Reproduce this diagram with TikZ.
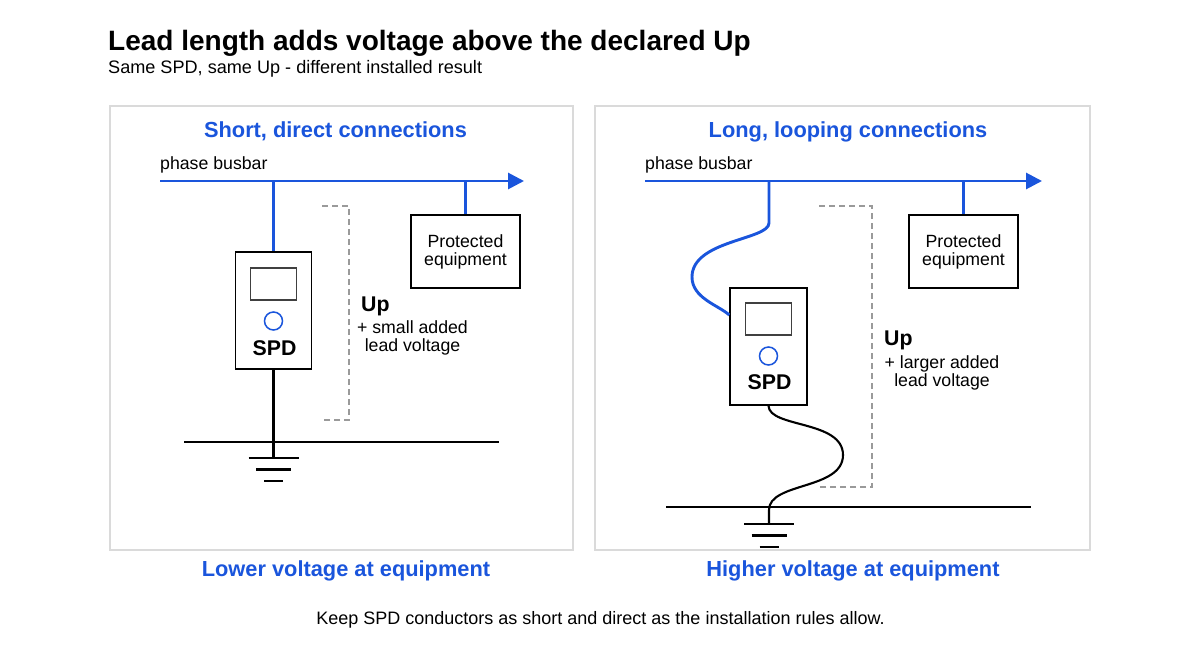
\documentclass[tikz,border=0pt]{standalone}
\usepackage{fontspec}
\setmainfont{Liberation Sans}
\usetikzlibrary{arrows.meta,calc}
\definecolor{busblue}{HTML}{1A55DC}
\definecolor{panelline}{HTML}{DADADA}
\definecolor{dimgray}{HTML}{9A9A9A}

\tikzset{
  panel/.style={draw=panelline, fill=white, line width=1.2pt},
  bus/.style={draw=busblue, line width=2.9pt},
  wire/.style={draw=black, line width=2.1pt},
  unitbox/.style={draw, line width=1.4pt, fill=white, inner sep=0pt},
  window/.style={draw=black!75, line width=1.2pt, minimum width=46pt, minimum height=32pt, inner sep=0pt},
  lamp/.style={circle, draw=busblue, line width=1.5pt, minimum size=18pt, inner sep=0pt},
  bracket/.style={draw=dimgray, dashed, dash pattern=on 6pt off 4pt, line width=1.1pt},
  heading/.style={text=busblue, font=\bfseries\fontsize{21.8}{26}\selectfont, inner sep=0pt},
  small/.style={font=\fontsize{17.7}{18}\selectfont, inner sep=0pt},
  big/.style={font=\bfseries\fontsize{21.3}{25}\selectfont, inner sep=0pt}
}

\begin{document}
\begin{tikzpicture}[x=1pt,y=-1pt]
  \useasboundingbox (0,0) rectangle (1200,650);

  % title
  \node[anchor=base west, inner sep=0pt, font=\bfseries\fontsize{28}{32}\selectfont] (title) at (108,51) {Lead length adds voltage above the declared Up};
  \node[anchor=base west, inner sep=0pt, font=\fontsize{18.1}{22}\selectfont] (subtitle) at (108,74) {Same SPD, same Up - different installed result};

  % panels
  \draw[panel] (110,106) rectangle (573,550);
  \draw[panel] (595,106) rectangle (1090,550);

  % ---- left: short, direct connections
  \node[heading, anchor=base] (headL) at (335.5,138) {Short, direct connections};
  \node[small, anchor=base west] (busL) at (160,170) {phase busbar};
  \coordinate (busLs) at (160,181);
  \coordinate (busLe) at (524,181);
  \draw[bus, -{Triangle[length=16pt,width=16pt]}] (busLs) -- (busLe);

  \node[unitbox, minimum width=76pt, minimum height=117pt] (spdL) at (273.5,310.5) {};
  \node[window] (winL) at (273.5,284) {};
  \node[lamp] (lampL) at (273.5,321) {};
  \node[big, anchor=base] (txtL) at (274.5,355) {SPD};
  \draw[bus] (spdL.north |- busLs) -- (spdL.north);

  \node[unitbox, small, align=center, minimum width=109pt, minimum height=73pt] (eqL) at (465.5,251.5) {Protected\\equipment};
  \draw[bus] (eqL.north |- busLs) -- (eqL.north);

  \coordinate (earthLs) at (184,442);
  \coordinate (earthLe) at (499,442);
  \draw[wire] (earthLs) -- (earthLe);
  \coordinate (gndL) at (273.5,458);
  \draw[wire] (spdL.south) -- (gndL);
  \draw[wire] ($(gndL)+(-25,0)$) -- ($(gndL)+(25,0)$);
  \draw[wire] ($(gndL)+(-17.5,11.5)$) -- ($(gndL)+(17.5,11.5)$);
  \draw[wire] ($(gndL)+(-9.5,23)$) -- ($(gndL)+(9.5,23)$);

  \draw[bracket] (322,206) -- (349,206) -- (349,420) -- (322,420);
  \node[big, anchor=base west] (upL) at (361,311) {Up};
  \node[small, align=center] (addL) at (412.5,338) {+ small added\\lead voltage};

  \node[heading, anchor=base] (footL) at (346,576) {Lower voltage at equipment};

  % ---- right: long, looping connections
  \node[heading, anchor=base] (headR) at (848,138) {Long, looping connections};
  \node[small, anchor=base west] (busR) at (645,170) {phase busbar};
  \coordinate (busRs) at (645,181);
  \coordinate (busRe) at (1042,181);
  \draw[bus, -{Triangle[length=16pt,width=16pt]}] (busRs) -- (busRe);

  \node[unitbox, minimum width=77pt, minimum height=117pt] (spdR) at (768.5,346.5) {};
  \node[window] (winR) at (768.5,319) {};
  \node[lamp] (lampR) at (768.5,356) {};
  \node[big, anchor=base] (txtR) at (769.5,389) {SPD};
  \coordinate (tapR) at (769,181);
  \draw[bus] (tapR) -- (769,223) .. controls (769,240) and (692,240) .. (692,277)
    .. controls (692,298) and (718,305) .. (spdR.west |- 0,315);

  \node[unitbox, small, align=center, minimum width=109pt, minimum height=73pt] (eqR) at (963.5,251.5) {Protected\\equipment};
  \draw[bus] (eqR.north |- busRs) -- (eqR.north);

  \coordinate (earthRs) at (666,507);
  \coordinate (earthRe) at (1031,507);
  \draw[wire] (earthRs) -- (earthRe);
  \coordinate (gndR) at (769,524);
  \draw[wire] (spdR.south) .. controls (769,428) and (843,420) .. (843,455)
    .. controls (843,490) and (769,482) .. (769,510) -- (gndR);
  \draw[wire] ($(gndR)+(-25,0)$) -- ($(gndR)+(25,0)$);
  \draw[wire] ($(gndR)+(-17.5,11.5)$) -- ($(gndR)+(17.5,11.5)$);
  \draw[wire] ($(gndR)+(-9.5,23)$) -- ($(gndR)+(9.5,23)$);

  \draw[bracket] (819,206) -- (872,206) -- (872,487) -- (819,487);
  \node[big, anchor=base west] (upR) at (884,345) {Up};
  \node[small, align=center] (addR) at (942,373) {+ larger added\\lead voltage};

  \node[heading, anchor=base] (footR) at (853,576) {Higher voltage at equipment};

  % note
  \node[anchor=base, inner sep=0pt, font=\fontsize{18}{21}\selectfont] (note) at (600.5,624) {Keep SPD conductors as short and direct as the installation rules allow.};
\end{tikzpicture}
\end{document}
